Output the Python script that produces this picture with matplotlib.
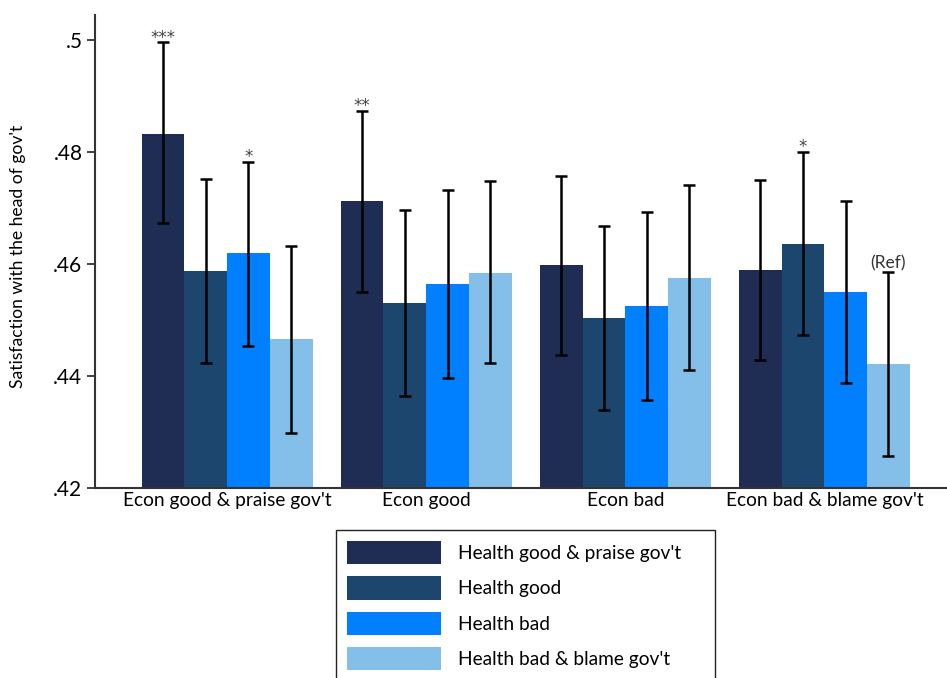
import numpy as np
import matplotlib.pyplot as plt

plt.rcParams['font.family'] = ['Lato', 'DejaVu Sans']

groups = ["Econ good & praise gov't", "Econ good", "Econ bad", "Econ bad & blame gov't"]
series = ["Health good & praise gov't", "Health good", "Health bad", "Health bad & blame gov't"]
colors = ['#1f2d54', '#1c466e', '#0080ff', '#84bfea']

# predicted satisfaction, one list per health condition (across econ groups)
means = [
    [0.4833, 0.4713, 0.4598, 0.4589],
    [0.4588, 0.4531, 0.4503, 0.4636],
    [0.4619, 0.4564, 0.4526, 0.4550],
    [0.4466, 0.4584, 0.4575, 0.4421],
]
ci_low = [
    [0.4673, 0.4551, 0.4438, 0.4429],
    [0.4424, 0.4365, 0.4339, 0.4473],
    [0.4454, 0.4397, 0.4358, 0.4388],
    [0.4299, 0.4423, 0.4411, 0.4257],
]
ci_high = [
    [0.4996, 0.4873, 0.4758, 0.4750],
    [0.4752, 0.4696, 0.4668, 0.4800],
    [0.4782, 0.4732, 0.4693, 0.4713],
    [0.4633, 0.4748, 0.4741, 0.4585],
]
# significance marks: (series, group, text)
marks = [(0, 0, '***'), (2, 0, '*'), (0, 1, '**'), (1, 3, '*'), (3, 3, '(Ref)')]

fig = plt.figure(figsize=(9.47, 6.78), dpi=100, facecolor='white')
ax = fig.add_axes([0.1003, 0.2802, 0.8997, 0.6977])

x = np.arange(len(groups))
w = 0.2145
for i, name in enumerate(series):
    pos = x + (i - 1.5) * w
    m = np.array(means[i])
    lo = m - np.array(ci_low[i])
    hi = np.array(ci_high[i]) - m
    ax.bar(pos, m - 0.42, w, bottom=0.42, color=colors[i], label=name, zorder=2)
    ax.errorbar(pos, m, yerr=[lo, hi], fmt='none', ecolor='black',
                elinewidth=1.8, capsize=4.6, capthick=1.8, zorder=3)

for i, g, txt in marks:
    xp = x[g] + (i - 1.5) * w
    if txt == '(Ref)':
        ax.annotate(txt, (xp, ci_high[i][g]), xytext=(0, 1), textcoords='offset points',
                    ha='center', va='bottom', fontsize=12.5, color='#333333')
    else:
        ax.annotate(txt, (xp, ci_high[i][g]), xytext=(0, -3), textcoords='offset points',
                    ha='center', va='bottom', fontsize=12, color='#444444',
                    family='DejaVu Sans')

ax.set_xlim(-0.6635, 3.6158)
ax.set_ylim(0.42, 0.5045)
ax.set_yticks([0.42, 0.44, 0.46, 0.48, 0.50])
ax.set_yticklabels(['.42', '.44', '.46', '.48', '.5'], fontsize=15)
ax.set_xticks(x)
ax.set_xticklabels(groups, fontsize=13.8)
ax.tick_params(axis='x', length=0, pad=3)
ax.tick_params(axis='y', length=6, width=1.3, color='#333333', pad=3)
for s in ['top', 'right']:
    ax.spines[s].set_visible(False)
for s in ['left', 'bottom']:
    ax.spines[s].set_linewidth(1.5)
    ax.spines[s].set_color('#333333')

ax.set_ylabel("Satisfaction with the head of gov't", fontsize=12.6, va='center')
ax.yaxis.set_label_coords(-0.09, 0.49)

# legend box runs off the bottom of the figure
fig.legend(loc='upper left', bbox_to_anchor=(0.355, 0.018, 0.4002, 0.2), mode='expand',
           fontsize=13.8, handlelength=4.9, handleheight=1.5, handletextpad=0.89,
           labelspacing=0.63, borderpad=0.55, borderaxespad=0,
           frameon=True, fancybox=False, edgecolor='#222222', framealpha=1)

fig.savefig('out.png', dpi=100, facecolor='white')
